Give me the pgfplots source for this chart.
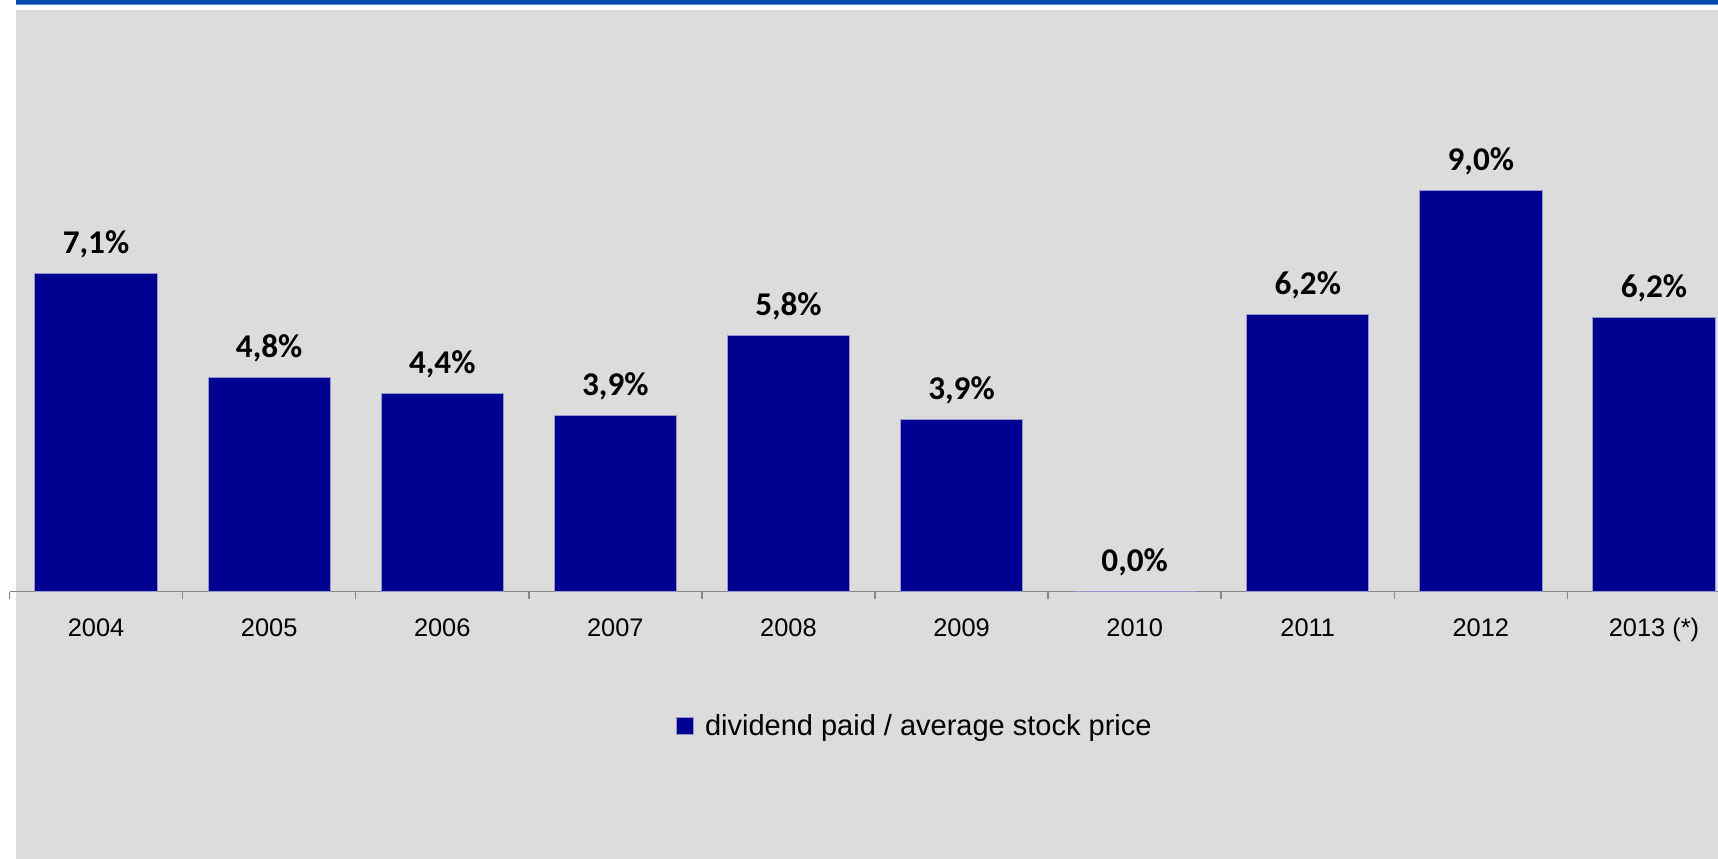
\documentclass[border=0pt]{standalone}
\usepackage{pgfplots}
\usepackage{pgfplotstable}
\pgfplotsset{compat=1.18}
\usepackage{fontspec}
\setmainfont{Liberation Sans}
\newfontfamily\calibri{Carlito}

\definecolor{bggray}{RGB}{220,220,220}
\definecolor{barblue}{RGB}{0,0,144}
\definecolor{baredge}{RGB}{150,150,205}
\definecolor{topblue}{RGB}{0,71,171}
\definecolor{toplight}{RGB}{90,140,210}
\definecolor{axisgray}{RGB}{134,134,134}

% dividend paid / average stock price, in %
\pgfplotstableread{
x y lab
0 7.14 7,1
1 4.80 4,8
2 4.44 4,4
3 3.95 3,9
4 5.76 5,8
5 3.86 3,9
6 0.00 0,0
7 6.22 6,2
8 9.00 9,0
9 6.15 6,2
}\divdata

\begin{document}
\begin{tikzpicture}
\useasboundingbox (0,0) rectangle (859bp,429.5bp);
\clip (0,0) rectangle (859bp,429.5bp);
\fill[bggray] (8bp,0) rectangle (859bp,424.5bp);
\fill[topblue] (8bp,427.5bp) rectangle (859bp,429.5bp);
\fill[toplight] (8bp,427bp) rectangle (859bp,427.5bp);
\begin{axis}[
    at={(4.75bp,133.65bp)}, anchor=south west,
    scale only axis,
    width=865.5bp, height=267.36bp,
    xmin=-0.5, xmax=9.5, ymin=0, ymax=12,
    axis x line=bottom, axis y line=none,
    x axis line style={-, axisgray, line width=0.75bp},
    xtick={0,...,9},
    xticklabels={2004,2005,2006,2007,2008,2009,2010,2011,2012,2013 (*)},
    major tick length=0pt,
    minor xtick={-0.5,0.5,...,9.5},
    minor tick length=3.75bp,
    tick align=outside,
    minor tick style={axisgray, line width=0.75bp},
    xticklabel style={anchor=base, yshift=-22.5bp, inner sep=0pt,
        font=\fontsize{12.7bp}{15bp}\selectfont},
    ybar, bar width=61.15bp,
    point meta=explicit symbolic,
    nodes near coords={\pgfplotspointmeta\%},
    every node near coord/.append style={anchor=base, yshift=10bp, inner sep=0pt,
        black, font=\calibri\bfseries\fontsize{16.6bp}{19bp}\selectfont},
    legend style={at={(0.5237,-0.2512)}, anchor=center, draw=none, fill=none,
        inner sep=0pt, font=\fontsize{14.5bp}{17bp}\selectfont},
  ]
  \addplot[fill=barblue, draw=baredge, line width=0.5bp,
    legend image code/.code={\draw[fill=barblue, draw=baredge, line width=0.5bp]
        (0bp,-4.25bp) rectangle (8.5bp,4.25bp);}]
    table[x=x, y=y, meta=lab] {\divdata};
  \legend{\hspace{3.3bp}dividend paid / average stock price}
\end{axis}
\end{tikzpicture}
\end{document}
